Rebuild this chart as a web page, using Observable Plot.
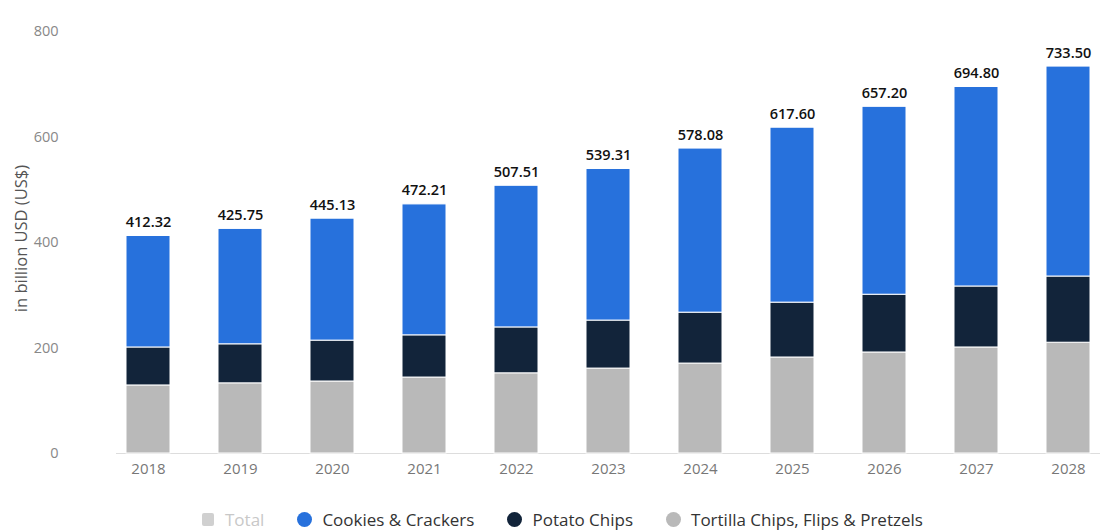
<!DOCTYPE html>
<html>
<head>
<meta charset="utf-8">
<script src="https://cdn.jsdelivr.net/npm/d3@7"></script>
<script src="https://cdn.jsdelivr.net/npm/@observablehq/plot@0.6"></script>
<style>
  html, body { margin: 0; padding: 0; background: #fff; }
  body { width: 1103px; height: 532px; overflow: hidden; font-family: "Open Sans", sans-serif; }
  #legend { display: flex; align-items: center; height: 32px; padding-left: 202px; padding-top: 3px; font-size: 17px; color: #333; }
  .item { display: flex; align-items: center; margin-right: 33px; }
  .sw { width: 15px; height: 15px; border-radius: 50%; margin-right: 10px; }
  .sq { border-radius: 2px; width: 12px; height: 13px; margin-right: 11px; }
</style>
</head>
<body>
<div id="chart"></div>
<div id="legend"></div>
<script>
const years = ["2018","2019","2020","2021","2022","2023","2024","2025","2026","2027","2028"];
const totals = [412.32, 425.75, 445.13, 472.21, 507.51, 539.31, 578.08, 617.60, 657.20, 694.80, 733.50];
const tortilla = [129, 133, 136.5, 144, 152, 161, 170.5, 182, 191.5, 201, 210];
const potato = [72, 74, 77.5, 80, 87, 91, 96.5, 104, 109.5, 115.6, 125.5];
const seriesNames = ["Cookies & Crackers", "Potato Chips", "Tortilla Chips, Flips & Pretzels"];
const seriesColors = ["#2771dc", "#12243a", "#b9b9b9"];
const yTicks = [0, 200, 400, 600, 800];

const cookies = totals.map((t, i) => +(t - tortilla[i] - potato[i]).toFixed(2));

const rows = [];
years.forEach((y, i) => {
  rows.push({year: y, series: seriesNames[2], value: tortilla[i], order: 0});
  rows.push({year: y, series: seriesNames[1], value: potato[i], order: 1});
  rows.push({year: y, series: seriesNames[0], value: cookies[i], order: 2});
});
const totalRows = years.map((y, i) => ({year: y, total: totals[i]}));

const chart = Plot.plot({
  width: 1103,
  height: 500,
  marginTop: 31,
  marginBottom: 47,
  marginLeft: 116,
  marginRight: 3,
  style: {fontFamily: "Open Sans, sans-serif", fontSize: "15px", color: "#777", background: "#fff"},
  x: {domain: years, paddingInner: 0.525, paddingOuter: 0.0756, label: null, tickSize: 0, tickPadding: 10},
  y: {domain: [0, 800], ticks: yTicks, label: null, axis: null},
  color: {domain: seriesNames, range: seriesColors},
  marks: [
    Plot.ruleY([0], {stroke: "#ddd"}),
    Plot.barY(rows, {x: "year", y: "value", fill: "series", order: "order", stroke: "#fff", strokeWidth: 1, inset: 0}),
    Plot.text(totalRows, {x: "year", y: "total", text: d => d.total.toFixed(2), dy: -9, lineAnchor: "bottom", fill: "#111", fontSize: 14.5, fontWeight: 600}),
    Plot.axisY({ticks: yTicks, tickSize: 0, anchor: "left", dx: -49, textAnchor: "end", fill: "#888", fontSize: 14.5, label: null}),
    Plot.text(["in billion USD (US$)"], {frameAnchor: "left", dx: -95, dy: -4, rotate: -90, textAnchor: "middle", fill: "#555", fontSize: 16.5})
  ]
});
document.getElementById("chart").appendChild(chart);

const legend = document.getElementById("legend");
const items = [{name: "Total", color: "#d0d0d0", sq: true, text: "#c8c8c8"}]
  .concat(seriesNames.map((n, i) => ({name: n, color: seriesColors[i], sq: false, text: "#333"})));
items.forEach(it => {
  const d = document.createElement("div");
  d.className = "item";
  const s = document.createElement("span");
  s.className = "sw" + (it.sq ? " sq" : "");
  s.style.background = it.color;
  const t = document.createElement("span");
  t.textContent = it.name;
  t.style.color = it.text;
  d.appendChild(s); d.appendChild(t);
  legend.appendChild(d);
});
</script>
</body>
</html>
